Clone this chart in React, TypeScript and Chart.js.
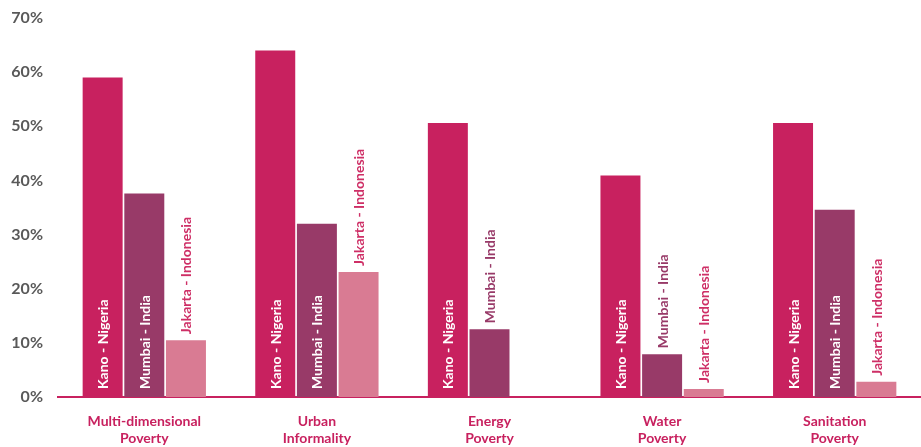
import React, { useEffect, useRef } from "react";
import { Chart, registerables } from "chart.js";

Chart.register(...registerables);

const categories: string[][] = [
  ["Multi-dimensional", "Poverty"],
  ["Urban", "Informality"],
  ["Energy", "Poverty"],
  ["Water", "Poverty"],
  ["Sanitation", "Poverty"],
];
const seriesNames = ["Kano - Nigeria", "Mumbai - India", "Jakarta - Indonesia"];
const kano: (number | null)[] = [59.0, 64.0, 50.6, 40.9, 50.6];
const mumbai: (number | null)[] = [37.6, 32.0, 12.5, 7.9, 34.6];
const jakarta: (number | null)[] = [10.5, 23.1, null, 1.5, 2.8];
const yTicks = [0, 10, 20, 30, 40, 50, 60, 70];

const barColors = ["#C8215F", "#983A68", "#D97B93"];
const labelColors = ["#C8215F", "#983A68", "#CE2F66"];
const LABEL_FONT = "bold 14px Lato";

const barLabelPlugin = {
  id: "barLabels",
  afterDatasetsDraw(chart: any) {
    const ctx = chart.ctx;
    ctx.save();
    ctx.font = LABEL_FONT;
    ctx.textBaseline = "middle";
    ctx.textAlign = "left";
    chart.data.datasets.forEach((ds: any, di: number) => {
      const meta = chart.getDatasetMeta(di);
      meta.data.forEach((bar: any, i: number) => {
        const v = ds.data[i];
        if (v === null || v === undefined) return;
        const text = ds.label;
        const w = ctx.measureText(text).width;
        const h = bar.base - bar.y;
        let startY: number;
        let color: string;
        if (w + 14 <= h) {
          startY = bar.base - 8;
          color = "#FFFFFF";
        } else {
          startY = bar.y - 6;
          color = labelColors[di];
        }
        ctx.save();
        ctx.translate(bar.x + 1, startY);
        ctx.rotate(-Math.PI / 2);
        ctx.fillStyle = color;
        ctx.fillText(text, 0, 0);
        ctx.restore();
      });
    });
    ctx.restore();
  },
};

export default function App() {
  const ref = useRef<HTMLCanvasElement | null>(null);
  useEffect(() => {
    if (!ref.current) return;
    const chart = new Chart(ref.current, {
      type: "bar",
      data: {
        labels: categories,
        datasets: [kano, mumbai, jakarta].map((d, i) => ({
          label: seriesNames[i],
          data: d,
          backgroundColor: barColors[i],
          borderWidth: 0,
          categoryPercentage: 0.724,
          barPercentage: 0.96,
        })),
      },
      options: {
        animation: false,
        responsive: false,
        maintainAspectRatio: false,
        layout: { padding: { top: 18, right: 0, left: 0, bottom: 0 } },
        plugins: {
          legend: { display: false },
          tooltip: { enabled: false },
        },
        scales: {
          x: {
            grid: { display: false, drawTicks: false },
            border: { display: true, color: "#C8215F", width: 2 },
            ticks: {
              color: "#C8215F",
              font: { family: "Lato", size: 14, weight: "bold", lineHeight: 1.2 },
              padding: 16,
              maxRotation: 0,
              autoSkip: false,
            },
            afterFit: (s: any) => {
              s.height = 50;
              s.paddingLeft = 0;
              s.paddingRight = 0;
            },
          },
          y: {
            min: 0,
            max: 70,
            afterBuildTicks: (s: any) => {
              s.ticks = yTicks.map((v) => ({ value: v }));
            },
            grid: { display: false, drawTicks: false },
            border: { display: false },
            ticks: {
              color: "#595959",
              font: { family: "Lato", size: 16, weight: "bold" },
              padding: 15,
              callback: (v: any) => v + "%",
            },
            afterFit: (s: any) => {
              s.width = 58;
              s.paddingTop = 0;
              s.paddingBottom = 0;
            },
          },
        },
      },
      plugins: [barLabelPlugin],
    });
    return () => chart.destroy();
  }, []);
  return (
    <div style={{ position: "fixed", left: 0, top: 0, width: 921, height: 447, background: "#fff" }}>
      <canvas ref={ref} width={921} height={447} style={{ width: 921, height: 447, display: "block" }} />
    </div>
  );
}
